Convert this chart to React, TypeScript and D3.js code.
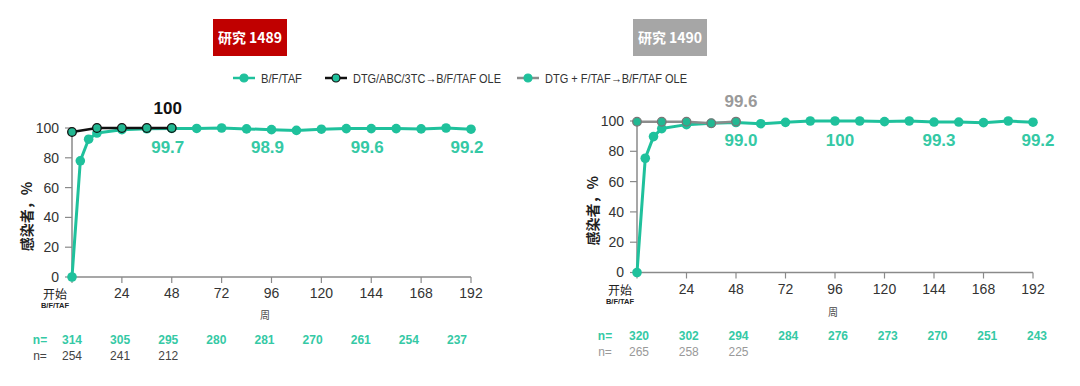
import React from "react";
import * as d3 from "d3";

const weeks = [0, 4, 8, 12, 24, 36, 48, 60, 72, 84, 96, 108, 120, 132, 144, 156, 168, 180, 192];
const bft1489 = [0, 78, 92.5, 96.6, 98.9, 99.5, 99.7, 99.7, 100, 99.4, 98.9, 98.4, 99.2, 99.6, 99.6, 99.6, 99.4, 100, 99.2];
const bft1490 = [0, 75.4, 89.7, 95.0, 97.6, 98.5, 99.0, 98.2, 99.1, 100, 100, 100, 99.6, 100, 99.3, 99.3, 98.9, 100, 99.2];
const oleWeeks = [0, 12, 24, 36, 48];
const ole1489 = [97.3, 100, 100, 100, 100];
const ole1490 = [99.5, 99.5, 99.5, 98.5, 99.6];
const xTicks = [0, 24, 48, 72, 96, 120, 144, 168, 192];
const yTicks = [0, 20, 40, 60, 80, 100];
const n1489Bft = ["314", "305", "295", "280", "281", "270", "261", "254", "237"];
const n1489Ole = ["254", "241", "212"];
const n1490Bft = ["320", "302", "294", "284", "276", "273", "270", "251", "243"];
const n1490Ole = ["265", "258", "225"];
const callouts1489 = [{ w: 48, v: "99.7" }, { w: 96, v: "98.9" }, { w: 144, v: "99.6" }, { w: 192, v: "99.2" }];
const callouts1490 = [{ w: 48, v: "99.0" }, { w: 96, v: "100" }, { w: 144, v: "99.3" }, { w: 192, v: "99.2" }];
const legendLabels = ["B/F/TAF", "DTG/ABC/3TC→B/F/TAF OLE", "DTG + F/TAF→B/F/TAF OLE"];

const TEAL = "#1fc19c";
const TEAL_TXT = "#35c9a5";
const LAT = "'Liberation Sans', Arial, 'Noto Sans CJK SC', sans-serif";
const CJK = "'Noto Sans CJK SC', 'Liberation Sans', sans-serif";

type PanelProps = {
  x0: number; x1: number; yTop: number; yBot: number;
  bft: number[]; ole: number[]; oleColor: string; oleStroke: string;
  oleLabel: string; oleLabelColor: string;
  callouts: { w: number; v: string }[]; cOff: number;
  nBft: string[]; nOle: string[]; nOleColor: string;
  nX0: number; nX1: number; nY1: number; nY2: number; nLabelX: number;
  yTitleX: number; xTitleX: number; xTitleY: number;
};

function Panel(p: PanelProps) {
  const x = d3.scaleLinear().domain([0, 192]).range([p.x0, p.x1]);
  const y = d3.scaleLinear().domain([0, 100]).range([p.yBot, p.yTop]);
  const nx = d3.scalePoint<number>().domain(d3.range(9)).range([p.nX0, p.nX1]);
  const line = d3.line<[number, number]>().x((d) => x(d[0])).y((d) => y(d[1]));
  const bftPts: [number, number][] = weeks.map((w, i) => [w, p.bft[i]]);
  const olePts: [number, number][] = oleWeeks.map((w, i) => [w, p.ole[i]]);
  const axisColor = "#8a8a8a";
  return (
    <g>
      <line x1={x(0)} x2={x(0)} y1={y(0)} y2={y(100)} stroke={axisColor} strokeWidth={1.5} />
      <line x1={x(0)} x2={x(192)} y1={y(0)} y2={y(0)} stroke={axisColor} strokeWidth={1.5} />
      {yTicks.map((t) => (
        <g key={"y" + t}>
          <line x1={x(0) - 7} x2={x(0)} y1={y(t)} y2={y(t)} stroke={axisColor} strokeWidth={1.2} />
          <text x={x(0) - 13} y={y(t)} dy="0.35em" textAnchor="end" fontFamily={LAT} fontSize={14} fill="#333">{t}</text>
        </g>
      ))}
      {xTicks.map((t) => (
        <g key={"x" + t}>
          <line x1={x(t)} x2={x(t)} y1={y(0)} y2={y(0) + 6} stroke={axisColor} strokeWidth={1.2} />
          {t === 0 ? (
            <g>
              <text x={x(t) - 17} y={y(0) + 22} textAnchor="middle" fontFamily={CJK} fontSize={12} fill="#222">开始</text>
              <text x={x(t) - 17} y={y(0) + 31} textAnchor="middle" fontFamily={LAT} fontSize={7.5} fontWeight="bold" fill="#222">B/F/TAF</text>
            </g>
          ) : (
            <text x={x(t)} y={y(0) + 21} textAnchor="middle" fontFamily={LAT} fontSize={14} fill="#333">{t}</text>
          )}
        </g>
      ))}
      <text x={p.xTitleX} y={p.xTitleY} textAnchor="middle" fontFamily={CJK} fontSize={10} fill="#444">周</text>
      <text transform={`translate(${p.yTitleX},${(y(0) + y(100)) / 2 + 14}) rotate(-90)`} textAnchor="middle" fontFamily={CJK} fontSize={14} fontWeight="bold" fill="#222">感染者，%</text>

      <path d={line(bftPts) || ""} fill="none" stroke={TEAL} strokeWidth={3} strokeLinejoin="round" />
      {bftPts.map((d, i) => (
        <circle key={"b" + i} cx={x(d[0])} cy={y(d[1])} r={4.8} fill={TEAL} />
      ))}
      <path d={line(olePts) || ""} fill="none" stroke={p.oleColor} strokeWidth={2.5} strokeLinejoin="round" />
      {olePts.map((d, i) => (
        <circle key={"o" + i} cx={x(d[0])} cy={y(d[1])} r={4.3} fill="#22b892" stroke={p.oleStroke} strokeWidth={1.3} />
      ))}

      <text x={x(48) + p.cOff} y={y(100) - 14} textAnchor="middle" fontFamily={LAT} fontSize={17} fontWeight="bold" fill={p.oleLabelColor}>{p.oleLabel}</text>
      {p.callouts.map((c) => (
        <text key={"c" + c.w} x={x(c.w) + p.cOff} y={y(100) + 25} textAnchor="middle" fontFamily={LAT} fontSize={17} fontWeight="bold" fill={TEAL_TXT}>{c.v}</text>
      ))}

      <text x={p.nLabelX} y={p.nY1} textAnchor="middle" fontFamily={LAT} fontSize={12} fontWeight="bold" fill={TEAL_TXT}>n=</text>
      {p.nBft.map((v, i) => (
        <text key={"nb" + i} x={nx(i)} y={p.nY1} textAnchor="middle" fontFamily={LAT} fontSize={12} fontWeight="bold" fill={TEAL_TXT}>{v}</text>
      ))}
      <text x={p.nLabelX} y={p.nY2} textAnchor="middle" fontFamily={LAT} fontSize={12} fill={p.nOleColor}>n=</text>
      {p.nOle.map((v, i) => (
        <text key={"no" + i} x={nx(i)} y={p.nY2} textAnchor="middle" fontFamily={LAT} fontSize={12} fill={p.nOleColor}>{v}</text>
      ))}
    </g>
  );
}

function LegendItem({ x, y, lineColor, markerStroke, label, width }: { x: number; y: number; lineColor: string; markerStroke: string; label: string; width: number }) {
  return (
    <g>
      <line x1={x} x2={x + 22} y1={y} y2={y} stroke={lineColor} strokeWidth={2.5} />
      <circle cx={x + 11} cy={y} r={4} fill={TEAL} stroke={markerStroke} strokeWidth={1.2} />
      <text x={x + 28} y={y} dy="0.35em" fontFamily={LAT} fontSize={13} fill="#333" textLength={width} lengthAdjust="spacingAndGlyphs">{label}</text>
    </g>
  );
}

export default function App() {
  return (
    <svg width={1080} height={386} style={{ position: "absolute", left: 0, top: 0, background: "#fff" }}>
      <rect x={0} y={0} width={1080} height={386} fill="#fff" />
      <rect x={213} y={19} width={74} height={37} fill="#c00000" />
      <text x={250} y={38} dy="0.35em" textAnchor="middle" fontFamily={CJK} fontSize={14} fontWeight="bold" fill="#fff">研究 1489</text>
      <rect x={633} y={19} width={74} height={37} fill="#a6a6a6" />
      <text x={670} y={38} dy="0.35em" textAnchor="middle" fontFamily={CJK} fontSize={14} fontWeight="bold" fill="#fff">研究 1490</text>

      <LegendItem x={233} y={78} lineColor={TEAL} markerStroke={TEAL} label={legendLabels[0]} width={41} />
      <LegendItem x={325} y={78} lineColor="#111" markerStroke="#111" label={legendLabels[1]} width={148} />
      <LegendItem x={517} y={78} lineColor="#8c8c8c" markerStroke={TEAL} label={legendLabels[2]} width={142} />

      <Panel x0={72} x1={471} yTop={128} yBot={277}
        bft={bft1489} ole={ole1489} oleColor="#111" oleStroke="#111"
        oleLabel="100" oleLabelColor="#111" callouts={callouts1489} cOff={-4}
        nBft={n1489Bft} nOle={n1489Ole} nOleColor="#444"
        nX0={72} nX1={457} nY1={344} nY2={360} nLabelX={40}
        yTitleX={32} xTitleX={265} xTitleY={319} />
      <Panel x0={637} x1={1033} yTop={121} yBot={272.5}
        bft={bft1490} ole={ole1490} oleColor="#8c8c8c" oleStroke="#777"
        oleLabel="99.6" oleLabelColor="#9a9a9a" callouts={callouts1490} cOff={5}
        nBft={n1490Bft} nOle={n1490Ole} nOleColor="#999"
        nX0={639} nX1={1037} nY1={340} nY2={356} nLabelX={605}
        yTitleX={598} xTitleX={833} xTitleY={316} />
    </svg>
  );
}
